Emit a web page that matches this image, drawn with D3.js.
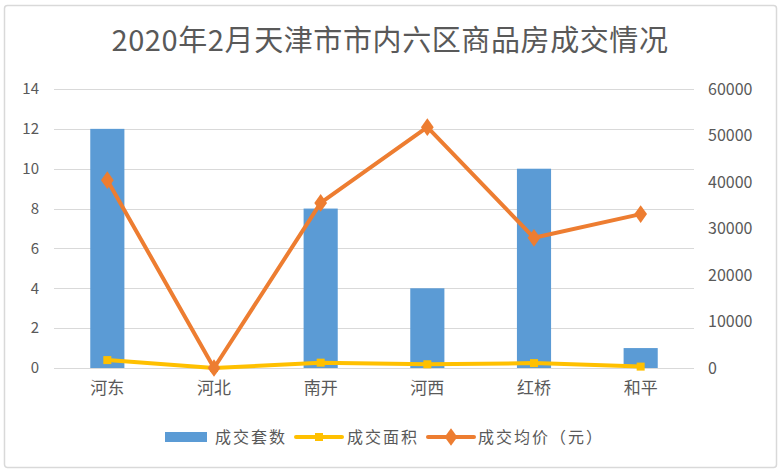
<!DOCTYPE html>
<html><head><meta charset="utf-8">
<script src="https://cdn.jsdelivr.net/npm/d3@7"></script>
<style>body{margin:0;background:#fff}svg{display:block}text{font-family:"Noto Sans CJK SC","Noto Sans",sans-serif}</style>
</head><body><svg id="c" width="782" height="472"></svg>
<script>
const categories = ["河东","河北","南开","河西","红桥","和平"];
const units = [12,0,8,4,10,1];
const area = [1700,0,1150,800,1050,300];
const price = [40400,0,35500,51800,28000,33100];
const leftTicks = [0,2,4,6,8,10,12,14];
const rightTicks = [0,10000,20000,30000,40000,50000,60000];
const seriesNames = ["成交套数","成交面积","成交均价（元）"];
const title = "2020年2月天津市市内六区商品房成交情况";

const svg = d3.select("#c");
svg.append("rect").attr("x",4.5).attr("y",5.5).attr("width",772).attr("height",462).attr("rx",3)
  .attr("fill","#fff").attr("stroke","#d9d9d9").attr("stroke-width",1.5);

const L=54,R=694,T=89,B=368;
const x = d3.scaleBand().domain(categories).range([L,R]);
const yL = d3.scaleLinear().domain([0,14]).range([B,T]);
const yR = d3.scaleLinear().domain([0,60000]).range([B,T]);

svg.append("text").attr("x",390).attr("y",51).attr("text-anchor","middle")
  .attr("font-size",29).attr("letter-spacing",0.6).attr("fill","#595959").text(title);

// gridlines
svg.append("g").selectAll("line").data(leftTicks).join("line")
  .attr("x1",L).attr("x2",R).attr("y1",d=>Math.round(yL(d))+0.5).attr("y2",d=>Math.round(yL(d))+0.5)
  .attr("stroke","#d9d9d9").attr("stroke-width",1.2);

// left axis
const gl = svg.append("g").attr("transform",`translate(${L},0)`)
  .call(d3.axisLeft(yL).tickValues(leftTicks).tickSize(0).tickPadding(15));
gl.select(".domain").remove();
gl.selectAll("text").attr("font-size",15).attr("fill","#595959");

// right axis
const gr = svg.append("g").attr("transform",`translate(${R},0)`)
  .call(d3.axisRight(yR).tickValues(rightTicks).tickFormat(d3.format("d")).tickSize(0).tickPadding(14));
gr.select(".domain").remove();
gr.selectAll("text").attr("font-size",16).attr("fill","#595959");

// bottom axis
const gb = svg.append("g").attr("transform",`translate(0,${B})`)
  .call(d3.axisBottom(x).tickSize(0).tickPadding(14));
gb.select(".domain").remove();
gb.selectAll("text").attr("font-size",17).attr("fill","#595959");

// bars
const bw = x.bandwidth()*0.32;
svg.append("g").selectAll("rect").data(units).join("rect")
  .attr("x",(d,i)=>x(categories[i])+x.bandwidth()/2-bw/2)
  .attr("y",d=>yL(d)).attr("width",bw).attr("height",d=>B-yL(d))
  .attr("fill","#5b9bd5");

const cx = i=>x(categories[i])+x.bandwidth()/2;
// area line
svg.append("path").datum(area).attr("fill","none").attr("stroke","#ffc000").attr("stroke-width",4)
  .attr("stroke-linejoin","round")
  .attr("d",d3.line().x((d,i)=>cx(i)).y(d=>yR(d)));
svg.append("g").selectAll("rect").data(area).join("rect")
  .attr("x",(d,i)=>cx(i)-4).attr("y",d=>yR(d)-4).attr("width",8).attr("height",8).attr("fill","#ffc000");
// price line
svg.append("path").datum(price).attr("fill","none").attr("stroke","#ed7d31").attr("stroke-width",4)
  .attr("stroke-linejoin","round")
  .attr("d",d3.line().x((d,i)=>cx(i)).y(d=>yR(d)));
const dia = d3.symbol().type(d3.symbolDiamond).size(90);
svg.append("g").selectAll("path").data(price).join("path")
  .attr("transform",(d,i)=>`translate(${cx(i)},${yR(d)}) scale(1.25,1)`).attr("d",dia).attr("fill","#ed7d31");

// legend
const ly=437;
const lg = svg.append("g");
const lt = (xx,t)=>lg.append("text").attr("x",xx).attr("y",ly+6).attr("font-size",16).attr("letter-spacing",2).attr("fill","#595959").text(t);
lg.append("rect").attr("x",165).attr("y",ly-5).attr("width",42).attr("height",10).attr("fill","#5b9bd5");
lt(215,seriesNames[0]);
lg.append("line").attr("x1",296).attr("x2",342).attr("y1",ly).attr("y2",ly).attr("stroke","#ffc000").attr("stroke-width",4).attr("stroke-linecap","round");
lg.append("rect").attr("x",315).attr("y",ly-4).attr("width",8).attr("height",8).attr("fill","#ffc000");
lt(347,seriesNames[1]);
lg.append("line").attr("x1",428).attr("x2",474).attr("y1",ly).attr("y2",ly).attr("stroke","#ed7d31").attr("stroke-width",4).attr("stroke-linecap","round");
lg.append("path").attr("transform",`translate(451,${ly}) scale(1.25,1)`).attr("d",dia).attr("fill","#ed7d31");
lt(478,seriesNames[2]);
</script></body></html>
